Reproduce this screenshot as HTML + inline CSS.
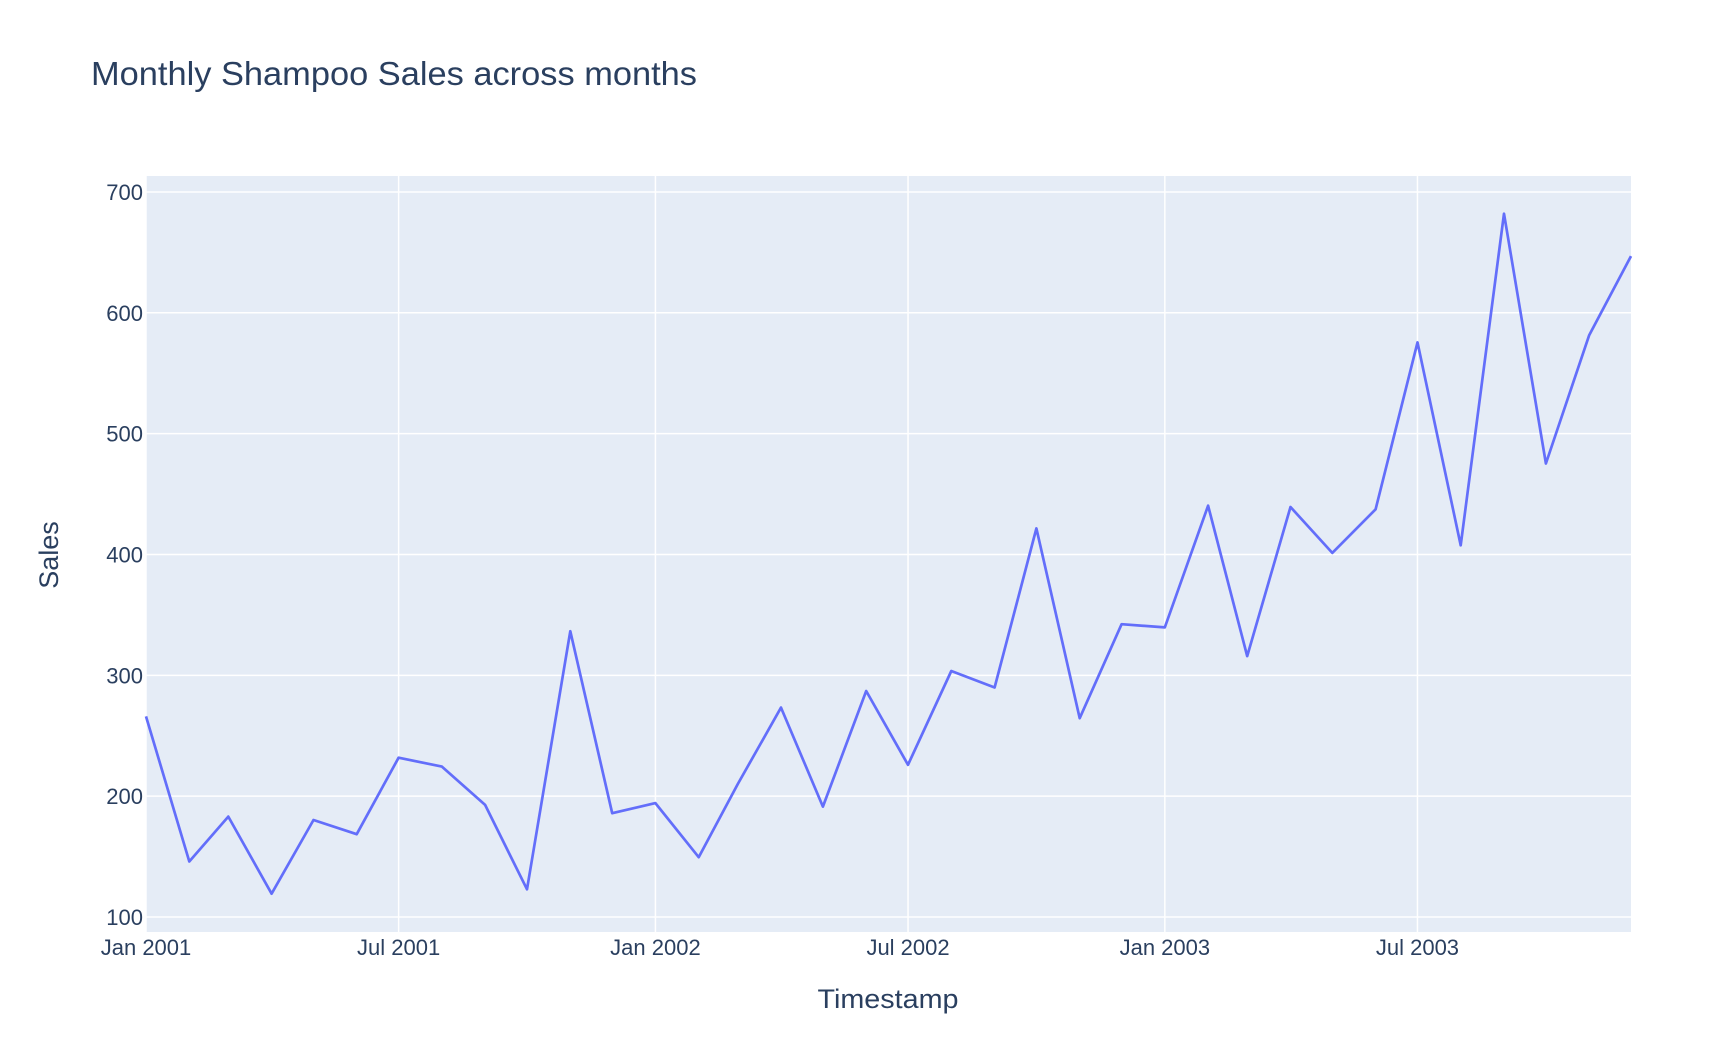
<!DOCTYPE html>
<html><head><meta charset="utf-8"><style>
body{margin:0;background:#fff;}
svg{display:block;font-family:"Liberation Sans",sans-serif;}
</style></head><body>
<svg id="chart" width="1716" height="1050">
<text x="91" y="85" font-size="33" textLength="606" lengthAdjust="spacingAndGlyphs" fill="#2a3f5f">Monthly Shampoo Sales across months</text>
<rect x="146" y="176" width="1485" height="756" fill="#E5ECF6"/>
<g id="grid"></g>
<g id="line"></g>
<g id="ticks"></g>
<text x="888" y="1008" font-size="27" textLength="141" lengthAdjust="spacingAndGlyphs" fill="#2a3f5f" text-anchor="middle">Timestamp</text>
<text transform="translate(58,555) rotate(-90)" font-size="27" fill="#2a3f5f" text-anchor="middle">Sales</text>
</svg>
<script>
const sales = [266.0,145.9,183.1,119.3,180.3,168.5,231.8,224.5,192.8,122.9,336.5,185.9,194.3,149.5,210.1,273.3,191.4,287.0,226.0,303.6,289.9,421.6,264.5,342.3,339.7,440.4,315.9,439.3,401.3,437.4,575.5,407.6,682.0,475.3,581.3,646.9];
const startYear = 2001;
const yTicks = [100,200,300,400,500,600,700];
const xTickLabels = ["Jan 2001","Jul 2001","Jan 2002","Jul 2002","Jan 2003","Jul 2003"];
const xTickMonths = [0,6,12,18,24,30];

const NS="http://www.w3.org/2000/svg";
const L=146,R=1631,T=176,B=932;
const yMin=87.6,yMax=713.2;
function dayOf(m){return Date.UTC(startYear,m,1)/86400000;}
const d0=dayOf(0),d1=dayOf(sales.length-1);
function xS(m){return L+(dayOf(m)-d0)/(d1-d0)*(R-L);}
function yS(v){return B-(v-yMin)/(yMax-yMin)*(B-T);}
function mk(tag,attrs,parent){const e=document.createElementNS(NS,tag);for(const k in attrs)e.setAttribute(k,attrs[k]);parent.appendChild(e);return e;}
const grid=document.getElementById('grid'),ticks=document.getElementById('ticks'),lineG=document.getElementById('line');
yTicks.forEach(v=>{
  const y=yS(v);
  const g=mk('line',{x1:L,x2:R,y1:y,y2:y,stroke:'#fff','stroke-width':1.5},grid);
  
  
  const t=mk('text',{x:L-3,y:y+8,'font-size':22,fill:'#2a3f5f','text-anchor':'end'},ticks);
  t.textContent=v;
  
  
});
xTickMonths.forEach((m,i)=>{
  const x=xS(m);
  const g=mk('line',{x1:x,x2:x,y1:T,y2:B,stroke:'#fff','stroke-width':1.5},grid);
  
  
  const t=mk('text',{x:x,y:955,'font-size':22,fill:'#2a3f5f','text-anchor':'middle'},ticks);
  t.textContent=xTickLabels[i];
  
  
});
const pts=sales.map((v,i)=>xS(i).toFixed(1)+','+yS(v).toFixed(1)).join(' ');
const pl=mk('polyline',{points:pts,fill:'none',stroke:'#636EFA','stroke-width':2.7,'stroke-linejoin':'round'},lineG);


</script>
</body></html>
